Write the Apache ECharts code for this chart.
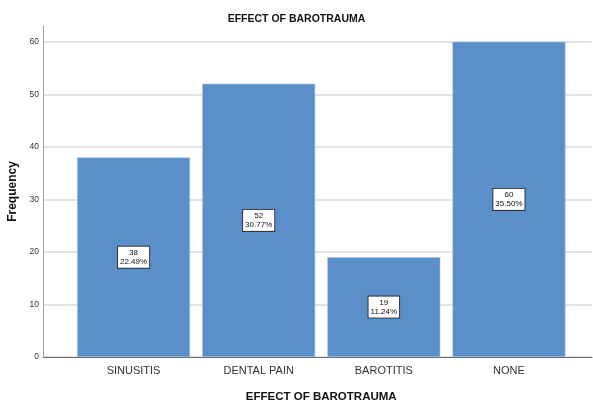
<!DOCTYPE html>
<html>
<head>
<meta charset="utf-8">
<script src="https://cdn.jsdelivr.net/npm/echarts@6/dist/echarts.min.js"></script>
<style>
  html, body { margin: 0; padding: 0; background: #fff; }
  #chart { width: 593px; height: 402px; }
</style>
</head>
<body>
<div id="chart"></div>
<script>
// Effect of barotrauma: frequency per category
const categories = ['SINUSITIS', 'DENTAL PAIN', 'BAROTITIS', 'NONE'];
const frequencies = [38, 52, 19, 60];
const yTicks = [0, 10, 20, 30, 40, 50, 60];

const total = frequencies.reduce((a, b) => a + b, 0);
const FONT = '"Liberation Sans", Arial, sans-serif';
const Y_MAX = 63;
const PLOT_TOP = 26;
const PLOT_BOTTOM = 45;

const chart = echarts.init(document.getElementById('chart'), null, { renderer: 'canvas' });

chart.setOption({
  animation: false,
  backgroundColor: '#ffffff',
  title: {
    text: 'EFFECT OF BAROTRAUMA',
    left: 'center',
    top: 9,
    textStyle: { fontFamily: FONT, fontSize: 10.5, fontWeight: 'bold', color: '#111' }
  },
  grid: [
    // frame: y axis, gridlines and baseline across the full width
    { left: 43, right: 1, top: PLOT_TOP, bottom: PLOT_BOTTOM, containLabel: false, outerBoundsMode: 'none' },
    // bars: categories are placed in the inner band
    { left: 71, right: 21.5, top: PLOT_TOP, bottom: PLOT_BOTTOM, containLabel: false, outerBoundsMode: 'none' }
  ],
  xAxis: [
    {
      gridIndex: 0, type: 'value', min: 0, max: 1,
      axisLine: { show: true, onZero: false, lineStyle: { color: '#6b6b6b', width: 1 } },
      axisTick: { show: false }, axisLabel: { show: false }, splitLine: { show: false }
    },
    {
      gridIndex: 1, type: 'category', data: categories,
      name: 'EFFECT OF BAROTRAUMA', nameLocation: 'middle', nameGap: 34,
      nameTextStyle: { fontFamily: FONT, fontSize: 11.5, fontWeight: 'bold', color: '#111' },
      axisLine: { show: false }, axisTick: { show: false },
      axisLabel: { fontFamily: FONT, fontSize: 11, color: '#333', margin: 8 }
    }
  ],
  yAxis: [
    {
      gridIndex: 0, type: 'value', min: 0, max: Y_MAX, interval: 10,
      name: 'Frequency', nameLocation: 'middle', nameGap: 20, nameRotate: 90,
      nameTextStyle: { fontFamily: FONT, fontSize: 12, fontWeight: 'bold', color: '#111' },
      axisLine: { show: true, lineStyle: { color: '#a0a0a0', width: 1 } },
      axisTick: { show: false },
      axisLabel: {
        fontFamily: FONT, fontSize: 8.5, color: '#333', margin: 4, showMaxLabel: false,
        formatter: v => (yTicks.indexOf(v) >= 0 ? String(v) : '')
      },
      splitLine: { show: true, showMaxLine: false, lineStyle: { color: '#d9d9d9', width: 1.5 } }
    },
    {
      gridIndex: 1, type: 'value', min: 0, max: Y_MAX, interval: 10, show: false,
      splitLine: { show: false }
    }
  ],
  series: [
    {
      type: 'bar',
      xAxisIndex: 1, yAxisIndex: 1,
      data: frequencies,
      barWidth: 113,
      itemStyle: { color: '#5b8fc9', borderColor: '#a9c4e4', borderWidth: 0.6 },
      label: {
        show: true,
        position: 'inside',
        formatter: p => p.value + '\n' + (p.value / total * 100).toFixed(2) + '%',
        fontFamily: FONT, fontSize: 8, lineHeight: 9, color: '#111',
        backgroundColor: '#ffffff', borderColor: '#333', borderWidth: 1,
        padding: [2, 2, 1, 2], align: 'center'
      }
    }
  ]
});
</script>
</body>
</html>
